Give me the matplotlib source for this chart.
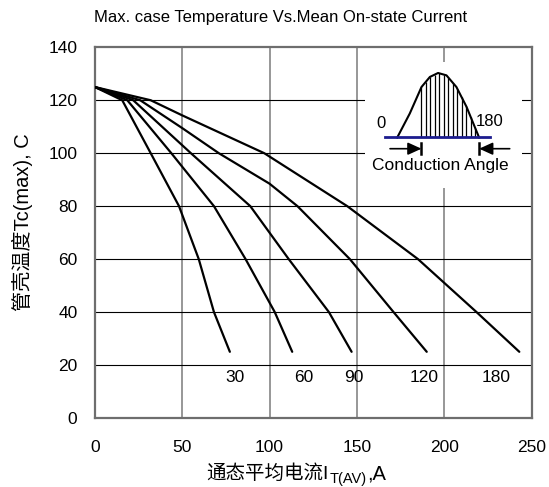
import numpy as np
import matplotlib
matplotlib.use('Agg')
import matplotlib.pyplot as plt
from matplotlib.patches import Rectangle

plt.rcParams['font.family'] = ['Liberation Sans', 'Noto Sans CJK SC', 'DejaVu Sans']

# axis ticks
x_ticks = [0, 50, 100, 150, 200, 250]
y_ticks = [0, 20, 40, 60, 80, 100, 120, 140]

# curves: mean current (A) vs max case temperature (C)
i_30 = [0, 15.7, 32, 48.2, 59.5, 68.2, 77.3]
tc_30 = [125, 120, 100, 80, 60, 40, 25]
i_60 = [0, 18.6, 43.8, 68.2, 86.3, 103, 113]
tc_60 = [125, 120, 100, 80, 60, 40, 25]
i_90 = [0, 22, 55, 89, 111, 134, 147]
tc_90 = [125, 120, 100, 80, 60, 40, 25]
i_120 = [0, 26, 50, 71, 100, 116, 146, 171, 190]
tc_120 = [125, 120, 109.5, 100, 88.5, 80, 60, 40, 25]
i_180 = [0, 32, 50, 97, 144.5, 185, 218.5, 243]
tc_180 = [125, 120, 114.3, 100, 80, 60, 40, 25]

curve_names = ['30', '60', '90', '120', '180']
label_x = [80, 119.7, 148, 188.7, 229.8]

# inset sketch of the conduction angle waveform
wave_x = [173.1, 180.3, 187.0, 191.8, 196.5, 201.3, 207.0, 212.8, 217.5, 220.0]
wave_y = [105.9, 115.0, 125.0, 128.8, 130.3, 129.4, 125.0, 117.5, 109.9, 105.9]

fig = plt.figure(figsize=(5.49, 4.87), dpi=100)
ax = fig.add_axes([0.1727, 0.1417, 0.7955, 0.7612])
ax.set_xlim(0, 250)
ax.set_ylim(0, 140)
ax.set_xticks(x_ticks)
ax.set_yticks(y_ticks)
ax.tick_params(length=0, labelsize=12.5)
ax.tick_params(axis='x', pad=16)
ax.tick_params(axis='y', pad=12.5)

for v in x_ticks[1:-1]:
    ax.axvline(v, color='#7a7a7a', lw=1.1, zorder=1)
for v in y_ticks[1:-1]:
    ax.axhline(v, color='black', lw=0.8, zorder=1)
# white box behind the inset breaks the grid
ax.add_patch(Rectangle((154.5, 86.8), 90, 47.5, facecolor='white',
                       edgecolor='none', zorder=1.5))

for s in ax.spines.values():
    s.set_color('#6e6e6e')
    s.set_linewidth(1.6)

for xs, ys in [(i_30, tc_30), (i_60, tc_60), (i_90, tc_90),
               (i_120, tc_120), (i_180, tc_180)]:
    ax.plot(xs, ys, color='black', lw=1.6, solid_joinstyle='round',
            solid_capstyle='round', zorder=3)

for name, lx in zip(curve_names, label_x):
    ax.text(lx, 15.2, name, ha='center', va='center', fontsize=12.5)

# inset
ax.plot(wave_x, wave_y, color='black', lw=1.5, zorder=3)
hx = np.linspace(187, 217.7, 13)
ax.vlines(hx, 106, np.interp(hx, wave_x, wave_y), colors='black', lw=0.9, zorder=3)
ax.plot([166, 226], [106, 106], color='#1c1c8e', lw=2, zorder=4)
ax.plot([187, 187], [99.6, 104], color='black', lw=1.8, zorder=3)
ax.plot([220, 220], [99.6, 104], color='black', lw=1.8, zorder=3)
arrow = dict(arrowstyle='-|>,head_length=0.55,head_width=0.25', color='black',
             lw=1.2, shrinkA=0, shrinkB=0, mutation_scale=15)
ax.annotate('', xy=(187, 101.7), xytext=(169, 101.7), arrowprops=arrow, zorder=3)
ax.annotate('', xy=(220, 101.7), xytext=(237.5, 101.7), arrowprops=arrow, zorder=3)
ax.text(164.1, 111.4, '0', ha='center', va='center', fontsize=12)
ax.text(226, 111.8, '180', ha='center', va='center', fontsize=12)
ax.text(197.5, 95.5, 'Conduction Angle', ha='center', va='center', fontsize=12.5)

W, H = 549, 487
fig.text(94.5 / W, 1 - 17.7 / H, 'Max. case Temperature Vs.Mean On-state Current',
         ha='left', va='center', fontsize=12)
fig.text(22 / W, 1 - 222 / H, '管壳温度Tc(max), C', rotation=90,
         ha='center', va='center', fontsize=14.5)

# x label with subscript, built piece by piece
renderer = fig.canvas.get_renderer()
base = 1 - 479 / H
t1 = fig.text(206.6 / W, base, '通态平均电流I', fontsize=14, va='baseline', ha='left')
bb = t1.get_window_extent(renderer)
t2 = fig.text((bb.x1 + 1) / W, base - 4.5 / H, 'T(AV)', fontsize=10.5,
              va='baseline', ha='left')
bb2 = t2.get_window_extent(renderer)
fig.text(bb2.x1 / W, base, ',A', fontsize=14.5, va='baseline', ha='left')

fig.savefig('out.png', dpi=100)
